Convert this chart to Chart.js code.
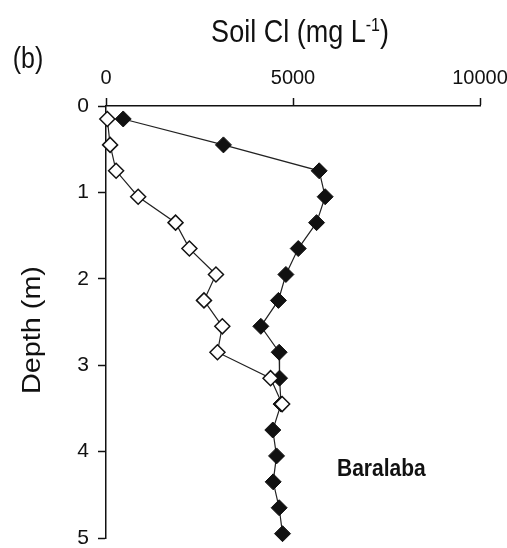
<!DOCTYPE html>
<html>
<head>
<meta charset="utf-8">
<script src="https://cdn.jsdelivr.net/npm/chart.js@4.4.1/dist/chart.umd.min.js"></script>
<style>
  html, body { margin: 0; padding: 0; background: #fff; }
  #wrap { width: 507px; height: 548px; position: relative; }
</style>
</head>
<body>
<div id="wrap"><canvas id="soilChart"></canvas></div>
<script>
// profundidades de muestreo (m)
const depthFilled = [0.15, 0.45, 0.75, 1.05, 1.35, 1.65, 1.95, 2.25, 2.55, 2.85, 3.15, 3.45, 3.75, 4.05, 4.35, 4.65, 4.95];
const clFilled = [460, 3140, 5700, 5860, 5630, 5140, 4810, 4610, 4140, 4630, 4640, 4680, 4460, 4560, 4470, 4630, 4720];

const depthOpen = [0.15, 0.45, 0.75, 1.05, 1.35, 1.65, 1.95, 2.25, 2.55, 2.85, 3.15, 3.45];
const clOpen = [35, 110, 270, 860, 1860, 2230, 2940, 2620, 3110, 2980, 4400, 4710];

const xTicks = [0, 5000, 10000];
const yTicks = [0, 1, 2, 3, 4, 5];

const FONT = "'Liberation Sans', Arial, sans-serif";
const ESTIRAR = 1.15; // la figura original esta algo estirada en vertical

// textos del grafico (titulo con superindice, etiqueta del panel, nombre del sitio)
const textosPlugin = {
    id: 'textos',
    afterDraw(chart) {
        const ctx = chart.ctx;
        ctx.save();
        ctx.fillStyle = '#111';

        // titulo: Soil Cl (mg L-1)
        const main = '27px ' + FONT;
        const sup = '16px ' + FONT;
        const p1 = 'Soil Cl (mg L', p2 = '-1', p3 = ')';
        ctx.font = main;
        const w1 = ctx.measureText(p1).width, w3 = ctx.measureText(p3).width;
        ctx.font = sup;
        const w2 = ctx.measureText(p2).width;
        const x = 300 - (w1 + w2 + w3) / 2;
        ctx.save();
        ctx.translate(0, 42);
        ctx.scale(1, ESTIRAR);
        ctx.textAlign = 'left';
        ctx.textBaseline = 'alphabetic';
        ctx.font = main;
        ctx.fillText(p1, x, 0);
        ctx.font = sup;
        ctx.fillText(p2, x + w1, -10);
        ctx.font = main;
        ctx.fillText(p3, x + w1 + w2, 0);
        ctx.restore();

        // (b)
        ctx.save();
        ctx.translate(28, 60);
        ctx.scale(1, ESTIRAR);
        ctx.font = '25px ' + FONT;
        ctx.textAlign = 'center';
        ctx.textBaseline = 'middle';
        ctx.fillText('(b)', 0, 0);
        ctx.restore();

        // Depth (m)
        ctx.save();
        ctx.translate(33, 330);
        ctx.scale(1, ESTIRAR);
        ctx.rotate(-Math.PI / 2);
        ctx.font = '25px ' + FONT;
        ctx.textAlign = 'center';
        ctx.textBaseline = 'middle';
        ctx.fillText('Depth (m)', 0, 0);
        ctx.restore();

        // Baralaba
        ctx.save();
        ctx.translate(337, 469);
        ctx.scale(1, ESTIRAR);
        ctx.font = 'bold 21px ' + FONT;
        ctx.textAlign = 'left';
        ctx.textBaseline = 'middle';
        ctx.fillText('Baralaba', 0, 0);
        ctx.restore();

        ctx.restore();
    }
};

const canvas = document.getElementById('soilChart');

new Chart(canvas, {
    type: 'scatter',
    data: {
        datasets: [{
            label: 'open',
            data: clOpen.map((v, i) => ({ x: v, y: depthOpen[i] })),
            showLine: true,
            borderColor: '#222',
            borderWidth: 1.2,
            pointStyle: 'rectRot',
            pointRadius: 7.5,
            pointBorderWidth: 1.5,
            pointBackgroundColor: '#fff',
            pointBorderColor: '#111',
            order: 0
        }, {
            label: 'filled',
            data: clFilled.map((v, i) => ({ x: v, y: depthFilled[i] })),
            showLine: true,
            borderColor: '#222',
            borderWidth: 1.2,
            pointStyle: 'rectRot',
            pointRadius: 8,
            pointBorderWidth: 1,
            pointBackgroundColor: '#111',
            pointBorderColor: '#111',
            order: 1
        }]
    },
    options: {
        responsive: true,
        maintainAspectRatio: false,
        animation: false,
        clip: false,
        layout: { padding: { left: 0, top: 0, right: 27, bottom: 10 } },
        plugins: {
            legend: { display: false },
            tooltip: { enabled: false }
        },
        scales: {
            x: {
                type: 'linear',
                position: 'top',
                min: 0,
                max: 10000,
                afterBuildTicks: (scale) => { scale.ticks = xTicks.map(v => ({ value: v })); },
                afterFit: (scale) => {
                    scale.height = 106;
                    scale.paddingLeft = 0;
                    scale.paddingRight = 0;
                },
                grid: {
                    drawOnChartArea: false,
                    drawTicks: true,
                    tickLength: 8,
                    tickColor: '#111',
                    tickWidth: 1.5
                },
                border: { display: true, color: '#111', width: 1.5 },
                ticks: {
                    color: '#111',
                    padding: 8,
                    maxRotation: 0,
                    callback: (v) => String(v),
                    font: { family: FONT, size: 20 }
                }
            },
            y: {
                type: 'linear',
                reverse: true,
                min: 0,
                max: 5,
                afterBuildTicks: (scale) => { scale.ticks = yTicks.map(v => ({ value: v })); },
                afterFit: (scale) => {
                    scale.width = 106;
                    scale.paddingTop = 0;
                    scale.paddingBottom = 0;
                },
                grid: {
                    drawOnChartArea: false,
                    drawTicks: true,
                    tickLength: 8,
                    tickColor: '#111',
                    tickWidth: 1.5
                },
                border: { display: true, color: '#111', width: 1.5 },
                ticks: {
                    color: '#111',
                    padding: 9,
                    callback: (v) => String(v),
                    font: { family: FONT, size: 21 }
                }
            }
        }
    },
    plugins: [textosPlugin]
});
</script>
</body>
</html>
